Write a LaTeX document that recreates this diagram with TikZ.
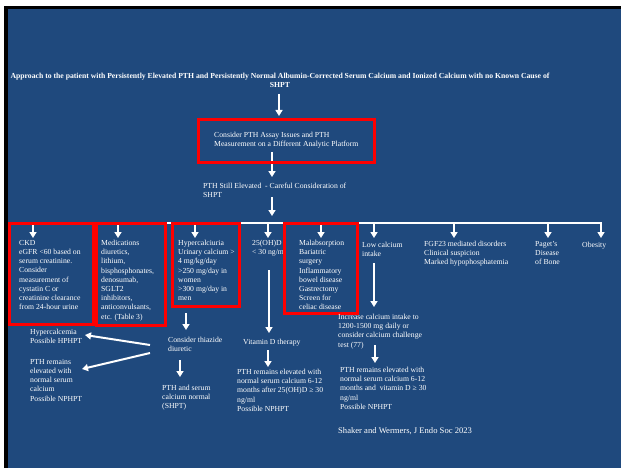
\documentclass[tikz,border=0pt]{standalone}
\usepackage{fontspec}
\setmainfont{Liberation Serif}
\usetikzlibrary{arrows.meta}
\definecolor{slideblue}{RGB}{31,73,125}
\tikzset{
  txt/.style={text=white,font=\fontsize{7.7}{9.2}\selectfont,align=left,inner sep=0pt,anchor=north west},
  arr/.style={white,line width=2pt,-{Triangle[width=7pt,length=6pt]}},
  redbox/.style={red,line width=3pt}
}

\begin{document}
\begin{tikzpicture}[x=1pt,y=-1pt]
  \useasboundingbox (0,0) rectangle (621,468);
  \fill[white] (0,0) rectangle (621,468);
  \fill[black] (4,6) rectangle (621,468);
  \fill[slideblue] (8,9) rectangle (621,468);
  % title and first steps
  \node[txt,anchor=north,align=center,font=\bfseries\fontsize{7.7}{9}\selectfont] (title) at (280,73)
    {Approach to the patient with Persistently Elevated PTH and Persistently Normal Albumin-Corrected Serum Calcium and Ionized Calcium with no Known Cause of\\SHPT};
  \coordinate (t1) at (279,94);
  \coordinate (t2) at (279,116);
  \draw[arr] (t1) -- (t2);
  \node[txt] (assay) at (214,132) {Consider PTH Assay Issues and PTH\\Measurement on a Different Analytic Platform};
  \coordinate (a1) at (272,152);
  \coordinate (a2) at (272,177);
  \draw[arr] (a1) -- (a2);
  \draw[redbox] (198.5,119.5) rectangle (374,162);
  \node[txt] (still) at (203,183) {PTH Still Elevated\ \ - Careful Consideration of\\SHPT};
  \coordinate (s1) at (272,197);
  \coordinate (s2) at (272,216);
  \draw[arr] (s1) -- (s2);
  % branch line
  \coordinate (hl) at (33,223);
  \coordinate (hr) at (602,223);
  \draw[white,line width=2pt] (hl) -- (hr);
  \foreach \x/\n in {33/ckd,118/meds,195/hyp,268/vitd,321/malab,374/lowca,454/fgf,548/paget,601/obes}
    \draw[arr] (\x,222) coordinate (top\n) -- (\x,238) coordinate (drop\n);
  % causes
  \node[txt] (ckd) at (19,240) {CKD\\eGFR <60 based on\\serum creatinine.\\Consider\\measurement of\\cystatin C or\\creatinine clearance\\from 24-hour urine};
  \node[txt] (meds) at (101,240) {Medications\\diuretics,\\lithium,\\bisphosphonates,\\denosumab,\\SGLT2\\inhibitors,\\anticonvulsants,\\etc. (Table 3)};
  \node[txt] (hyp) at (178,240) {Hypercalciuria\\Urinary calcium >\\4 mg/kg/day\\>250 mg/day in\\women\\>300 mg/day in\\men};
  \node[txt] (vitd) at (252,240) {25(OH)D\\< 30 ng/ml};
  \node[txt] (malab) at (299,240) {Malabsorption\\Bariatric\\surgery\\Inflammatory\\bowel disease\\Gastrectomy\\Screen for\\celiac disease};
  \node[txt] (lowca) at (362,242) {Low calcium\\intake};
  \node[txt] (fgf) at (424,241) {FGF23 mediated disorders\\Clinical suspicion\\Marked hypophosphatemia};
  \node[txt] (paget) at (535,241) {Paget's\\Disease\\of Bone};
  \node[txt] (obes) at (582,242) {Obesity};
  \draw[redbox] (9.5,223.5) rectangle (93.5,324);
  \draw[redbox] (96.5,223.5) rectangle (165,325.5);
  \draw[redbox] (172.5,223.5) rectangle (239,306);
  \draw[redbox] (284.5,223) rectangle (357,313);
  % hypercalciuria branch
  \coordinate (h1) at (186,313);
  \coordinate (h2) at (186,330);
  \draw[arr] (h1) -- (h2);
  \node[txt] (thiaz) at (168,337) {Consider thiazide\\diuretic};
  \node[txt] (hypca) at (30,329) {Hypercalcemia\\Possible HPHPT};
  \node[txt] (nphpt1) at (30,359) {PTH remains\\elevated with\\normal serum\\calcium\\Possible NPHPT};
  \node[txt] (shpt) at (162,385) {PTH and serum\\calcium normal\\(SHPT)};
  \coordinate (th1) at (150,345);
  \coordinate (th2) at (85,335);
  \coordinate (th3) at (150,353);
  \coordinate (th4) at (82,369);
  \coordinate (th5) at (180,360);
  \coordinate (th6) at (180,377);
  \draw[arr] (th1) -- (th2);
  \draw[arr] (th3) -- (th4);
  \draw[arr] (th5) -- (th6);
  % vitamin D branch
  \coordinate (v1) at (269,270);
  \coordinate (v2) at (269,333);
  \draw[arr] (v1) -- (v2);
  \node[txt] (vitdtx) at (243,339) {Vitamin D therapy};
  \coordinate (v3) at (268,350);
  \coordinate (v4) at (268,367);
  \draw[arr] (v3) -- (v4);
  \node[txt] (nphpt2) at (237,369) {PTH remains elevated with\\normal serum calcium 6-12\\months after 25(OH)D ≥ 30\\ng/ml\\Possible NPHPT};
  % low calcium branch
  \coordinate (l1) at (374,263);
  \coordinate (l2) at (374,307);
  \draw[arr] (l1) -- (l2);
  \node[txt] (incr) at (338,314) {Increase calcium intake to\\1200-1500 mg daily or\\consider calcium challenge\\test (77)};
  \coordinate (l3) at (375,345);
  \coordinate (l4) at (375,363);
  \draw[arr] (l3) -- (l4);
  \node[txt] (nphpt3) at (340,367) {PTH remains elevated with\\normal serum calcium 6-12\\months and\ \ vitamin D ≥ 30\\ng/ml\\Possible NPHPT};
  \node[txt,font=\fontsize{8.6}{10}\selectfont] (cite) at (338,427) {Shaker and Wermers, J Endo Soc 2023};
\end{tikzpicture}
\end{document}
